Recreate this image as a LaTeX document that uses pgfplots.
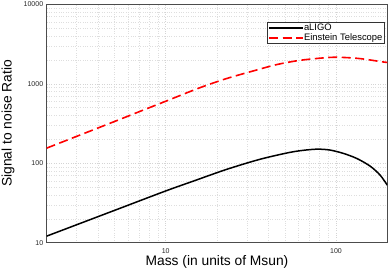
\documentclass[border=0pt]{standalone}
\usepackage{fontspec}
\setmainfont{Liberation Sans}
\usepackage{pgfplots}
\pgfplotsset{compat=1.18}
\begin{document}
\begin{tikzpicture}
\begin{axis}[
  scale only axis,
  width=340.6pt, height=238.4pt,
  xmode=log, ymode=log,
  xmin=2, xmax=200, ymin=10, ymax=10000,
  xtick={10,100}, xticklabels={10,100},
  ytick={10,100,1000,10000}, yticklabels={10,100,1000,10000},
  minor xtick={3,4,5,6,7,8,9,20,30,40,50,60,70,80,90},
  minor ytick={20,30,40,50,60,70,80,90,200,300,400,500,600,700,800,900,2000,3000,4000,5000,6000,7000,8000,9000},
  major tick length=0pt, minor tick length=0pt,
  grid=both,
  major grid style={black!17, dotted, line width=0.5pt},
  minor grid style={black!13, dotted, line width=0.5pt},
  axis line style={black!70, line width=0.8pt},
  /pgf/number format/assume math mode=true,
  tick label style={font=\fontsize{7}{8}\selectfont, text=black!85},
  xticklabel style={yshift=-2.2pt},
  xlabel={Mass (in units of Msun)},
  ylabel={Signal to noise Ratio},
  label style={font=\fontsize{13.8}{16}\selectfont},
  xlabel style={at={(axis description cs:0.5,-0.0977)}, anchor=base},
  ylabel style={at={(axis description cs:-0.1031,0.5)}, anchor=base},
  legend style={at={(axis description cs:0.9912,0.927)}, anchor=north east,
    font=\fontsize{9.4}{10}\selectfont, draw=black!80, line width=0.6pt,
    inner xsep=1pt, inner ysep=1pt, row sep=0pt, column sep=0pt,
    nodes={inner sep=0.6pt, text height=6.8pt, text depth=1.8pt},
    cells={anchor=west}},
  legend image code/.code={\draw[#1] (0pt,0pt) -- (25pt,0pt); \path (0pt,0pt) -- (33.5pt,0pt);},
  legend cell align=left,
]
\addplot[black, line width=1.5pt, smooth] coordinates {
(2,12.1) (5,25.5) (10,44.8) (14.5,59.5) (22.7,83.5) (35.7,112)
(53.6,137) (67.3,147) (78.7,150.3) (92.2,146.5)
(110.4,133) (132.4,114.8) (158.5,92) (181.4,71) (200,53)
};
\addlegendentry{aLIGO}
\addplot[red, line width=1.6pt, dash pattern=on 9pt off 4.5pt, smooth] coordinates {
(2,155) (3,218) (5,335) (7,446) (10,603) (15.85,891) (22.7,1161)
(32.6,1449) (44.8,1742) (61.4,1972) (88.1,2133) (105.6,2152)
(138.3,2073) (189.7,1880) (200,1860)
};
\addlegendentry{Einstein Telescope}
\end{axis}
\pgfresetboundingbox
\useasboundingbox (-46.7pt,-28.3pt) rectangle (342.3pt,242.7pt);
\end{tikzpicture}
\end{document}
